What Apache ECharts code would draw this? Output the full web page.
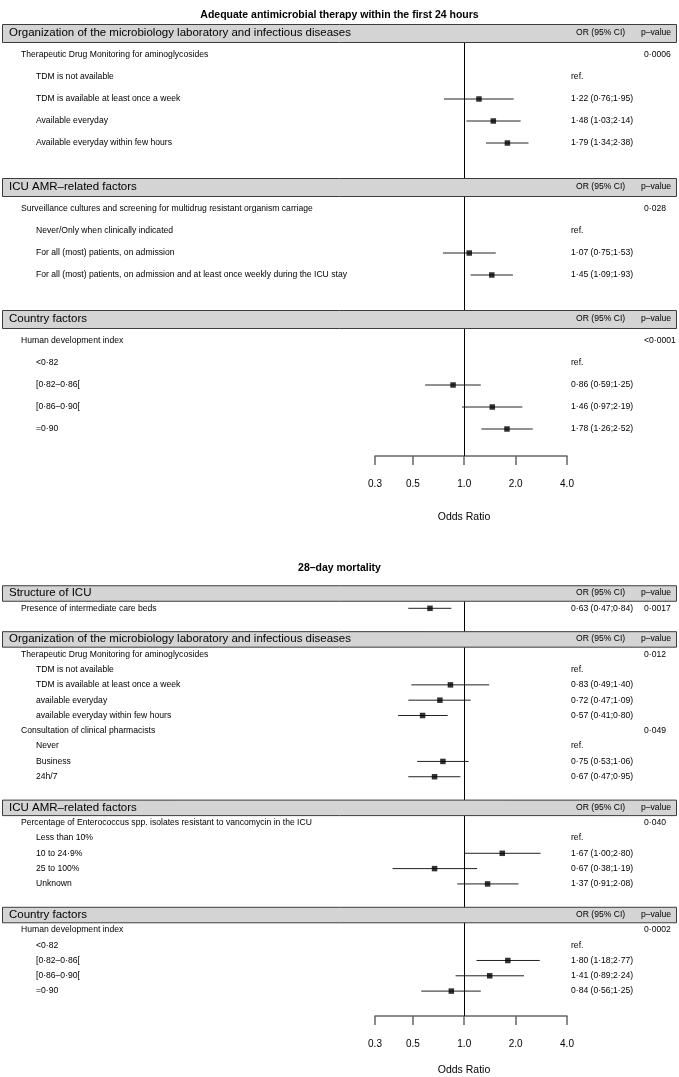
<!DOCTYPE html>
<html><head><meta charset="utf-8">
<script src="https://cdn.jsdelivr.net/npm/echarts@6/dist/echarts.min.js"></script>
<style>html,body{margin:0;padding:0;background:#fff}#c{width:679px;height:1077px}</style>
</head><body><div id="c"></div>
<script>
const FONT = '"Liberation Sans", Arial, Helvetica, sans-serif';

// ---------- Panel 1: Adequate antimicrobial therapy ----------
const topTitle = 'Adequate antimicrobial therapy within the first 24 hours';
const topLabels = [
  'Organization of the microbiology laboratory and infectious diseases',
  'Therapeutic Drug Monitoring for aminoglycosides',
  'TDM is not available',
  'TDM is available at least once a week',
  'Available everyday',
  'Available everyday within few hours',
  '',
  'ICU AMR–related factors',
  'Surveillance cultures and screening for multidrug resistant organism carriage',
  'Never/Only when clinically indicated',
  'For all (most) patients, on admission',
  'For all (most) patients, on admission and at least once weekly during the ICU stay',
  '',
  'Country factors',
  'Human development index',
  '<0·82',
  '[0·82–0·86[',
  '[0·86–0·90[',
  '=0·90'
];
const topLevels = ['h','g','i','i','i','i','-','h','g','i','i','i','-','h','g','i','i','i','i'];
const topOR   = [null,null,'ref',1.22,1.48,1.79,null,null,null,'ref',1.07,1.45,null,null,null,'ref',0.86,1.46,1.78];
const topLow  = [null,null,null,0.76,1.03,1.34,null,null,null,null,0.75,1.09,null,null,null,null,0.59,0.97,1.26];
const topHigh = [null,null,null,1.95,2.14,2.38,null,null,null,null,1.53,1.93,null,null,null,null,1.25,2.19,2.52];
const topP    = ['','0·0006','','','','','','','0·028','','','','','','<0·0001','','','',''];

// ---------- Panel 2: 28-day mortality ----------
const botTitle = '28–day mortality';
const botLabels = [
  'Structure of ICU',
  'Presence of intermediate care beds',
  '',
  'Organization of the microbiology laboratory and infectious diseases',
  'Therapeutic Drug Monitoring for aminoglycosides',
  'TDM is not available',
  'TDM is available at least once a week',
  'available everyday',
  'available everyday within few hours',
  'Consultation of clinical pharmacists',
  'Never',
  'Business',
  '24h/7',
  '',
  'ICU AMR–related factors',
  'Percentage of Enterococcus spp. isolates resistant to vancomycin in the ICU',
  'Less than 10%',
  '10 to 24·9%',
  '25 to 100%',
  'Unknown',
  '',
  'Country factors',
  'Human development index',
  '<0·82',
  '[0·82–0·86[',
  '[0·86–0·90[',
  '=0·90'
];
const botLevels = ['h','g','-','h','g','i','i','i','i','g','i','i','i','-','h','g','i','i','i','i','-','h','g','i','i','i','i'];
const botOR   = [null,0.63,null,null,null,'ref',0.83,0.72,0.57,null,'ref',0.75,0.67,null,null,null,'ref',1.67,0.67,1.37,null,null,null,'ref',1.80,1.41,0.84];
const botLow  = [null,0.47,null,null,null,null,0.49,0.47,0.41,null,null,0.53,0.47,null,null,null,null,1.00,0.38,0.91,null,null,null,null,1.18,0.89,0.56];
const botHigh = [null,0.84,null,null,null,null,1.40,1.09,0.80,null,null,1.06,0.95,null,null,null,null,2.80,1.19,2.08,null,null,null,null,2.77,2.24,1.25];
const botP    = ['','0·0017','','','0·012','','','','','0·049','','','','','','0·040','','','','','','','0·0002','','','',''];

const xTicks = [0.3, 0.5, 1, 2, 4];
const colHeadOR = 'OR (95% CI)';
const colHeadP = 'p–value';

const panels = [
  {title: topTitle, labels: topLabels, levels: topLevels, or: topOR, lo: topLow, hi: topHigh, p: topP,
   top: 33, row: 22, axisY: 456, box: 18, nameGap: 56, titleTop: 5},
  {title: botTitle, labels: botLabels, levels: botLevels, or: botOR, lo: botLow, hi: botHigh, p: botP,
   top: 593, row: 15.42, axisY: 1019, box: 15.5, nameGap: 49, titleTop: 558}
];

const fmt = v => v.toFixed(2).replace('.', '·');
const SMALL = 8.6;

const option = {
  animation: false,
  backgroundColor: '#fff',
  title: [], grid: [], xAxis: [], yAxis: [], series: []
};

panels.forEach((P, gi) => {
  option.title.push({
    text: P.title, left: 'center', top: P.titleTop,
    textStyle: {fontSize: 10.5, fontWeight: 'bold', color: '#000', fontFamily: FONT}
  });
  option.grid.push({left: 375, width: 192, top: P.top, height: P.axisY - P.top});
  option.yAxis.push({type: 'value', gridIndex: gi, inverse: true, min: 0, max: (P.axisY - P.top) / P.row, show: false});
  option.xAxis.push({
    type: 'log', logBase: 2, gridIndex: gi, min: 0.3, max: 4,
    axisLine: {show: true, onZero: false, lineStyle: {color: '#666', width: 1.5}},
    axisTick: {show: true, length: 9, customValues: xTicks, lineStyle: {color: '#666', width: 1.5}},
    minorTick: {show: false},
    axisLabel: {customValues: xTicks, formatter: v => Number(v).toFixed(1), margin: 23,
                fontSize: 10, color: '#000', fontFamily: FONT},
    splitLine: {show: false},
    name: 'Odds Ratio', nameLocation: 'middle', nameGap: P.nameGap,
    nameTextStyle: {fontSize: 10.5, color: '#000', fontFamily: FONT, padding: [0, 14, 0, 0]}
  });

  const pts = [], cis = [], rows = [], heads = [];
  P.labels.forEach((lab, i) => {
    if (typeof P.or[i] === 'number') {
      pts.push([P.or[i], i]);
      cis.push([P.lo[i], P.hi[i], i]);
    }
    if (P.levels[i] === 'h') heads.push([1, i, i]);
    else if (P.levels[i] !== '-') rows.push([1, i, i]);
  });

  // reference line + markers
  option.series.push({
    type: 'scatter', xAxisIndex: gi, yAxisIndex: gi, z: 4,
    symbol: 'rect', symbolSize: 5.5, itemStyle: {color: '#000'},
    data: pts,
    markLine: {silent: true, symbol: 'none', label: {show: false},
      lineStyle: {color: '#000', width: 1, type: 'solid'}, data: [{xAxis: 1}]}
  });
  // confidence intervals
  option.series.push({
    type: 'custom', xAxisIndex: gi, yAxisIndex: gi, z: 3,
    encode: {x: [0, 1], y: 2},
    data: cis,
    renderItem: (params, api) => {
      const a = api.coord([api.value(0), api.value(2)]);
      const b = api.coord([api.value(1), api.value(2)]);
      return {type: 'line', shape: {x1: a[0], y1: a[1], x2: b[0], y2: b[1]},
              style: {stroke: '#222', lineWidth: 1}};
    }
  });
  // row texts
  option.series.push({
    type: 'custom', xAxisIndex: gi, yAxisIndex: gi, z: 5,
    encode: {x: 0, y: 1},
    data: rows,
    renderItem: (params, api) => {
      const i = api.value(2);
      const y = api.coord([1, api.value(1)])[1];
      const lvl = P.levels[i];
      const children = [{
        type: 'text', x: lvl === 'g' ? 21 : 36, y: y,
        style: {text: P.labels[i], fill: '#000', fontSize: SMALL, fontFamily: FONT, align: 'left', verticalAlign: 'middle'}
      }];
      let ciText = '';
      if (P.or[i] === 'ref') ciText = 'ref.';
      else if (typeof P.or[i] === 'number') ciText = fmt(P.or[i]) + ' (' + fmt(P.lo[i]) + ';' + fmt(P.hi[i]) + ')';
      if (ciText) children.push({type: 'text', x: 571, y: y,
        style: {text: ciText, fill: '#000', fontSize: SMALL, fontFamily: FONT, align: 'left', verticalAlign: 'middle'}});
      if (P.p[i]) children.push({type: 'text', x: 644, y: y,
        style: {text: P.p[i], fill: '#000', fontSize: SMALL, fontFamily: FONT, align: 'left', verticalAlign: 'middle'}});
      return {type: 'group', children};
    }
  });
  // section headers
  option.series.push({
    type: 'custom', xAxisIndex: gi, yAxisIndex: gi, z: 10,
    encode: {x: 0, y: 1},
    data: heads,
    renderItem: (params, api) => {
      const i = api.value(2);
      const y = api.coord([1, api.value(1)])[1];
      return {type: 'group', children: [
        {type: 'rect', shape: {x: 2.5, y: y - P.box / 2 + 0.5, width: 674, height: P.box},
         style: {fill: '#d4d4d4', stroke: '#3c3c3c', lineWidth: 1}},
        {type: 'text', x: 9, y: y,
         style: {text: P.labels[i], fill: '#000', fontSize: 11.5, fontFamily: FONT, align: 'left', verticalAlign: 'middle'}},
        {type: 'text', x: 576, y: y,
         style: {text: colHeadOR, fill: '#000', fontSize: SMALL, fontFamily: FONT, align: 'left', verticalAlign: 'middle'}},
        {type: 'text', x: 641, y: y,
         style: {text: colHeadP, fill: '#000', fontSize: SMALL, fontFamily: FONT, align: 'left', verticalAlign: 'middle'}}
      ]};
    }
  });
});

const chart = echarts.init(document.getElementById('c'), null, {renderer: 'canvas'});
chart.setOption(option);
</script></body></html>
